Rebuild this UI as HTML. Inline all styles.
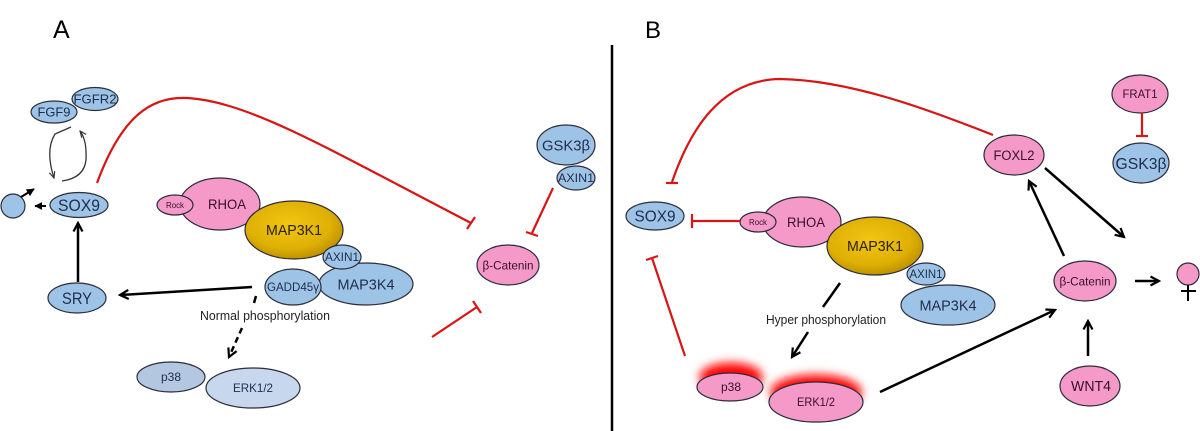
<!DOCTYPE html>
<html><head><meta charset="utf-8"><style>
html,body{margin:0;padding:0;background:#fff;}
svg{display:block;}
text{font-family:"Liberation Sans",sans-serif;}
</style></head><body>
<svg width="1200" height="431" viewBox="0 0 1200 431" xmlns="http://www.w3.org/2000/svg">
<defs>
<marker id="ah" viewBox="0 0 12 12" refX="10" refY="6" markerWidth="12" markerHeight="12" markerUnits="userSpaceOnUse" orient="auto">
<path d="M1.5,1.5 L10,6 L1.5,10.5" fill="none" stroke="#000" stroke-width="2.2"/>
</marker>
<marker id="ahs" viewBox="0 0 10 10" refX="9" refY="5" markerWidth="8" markerHeight="8" markerUnits="userSpaceOnUse" orient="auto">
<path d="M1,1.5 L9,5 L1,8.5" fill="none" stroke="#333" stroke-width="1.4"/>
</marker>
<marker id="ahf" viewBox="0 0 10 10" refX="9" refY="5" markerWidth="8" markerHeight="8" markerUnits="userSpaceOnUse" orient="auto">
<path d="M0,0 L10,5 L0,10 Z" fill="#000"/>
</marker>
<radialGradient id="gold" cx="45%" cy="40%" r="60%">
<stop offset="0" stop-color="#F2C612"/>
<stop offset="0.7" stop-color="#DFB005"/>
<stop offset="1" stop-color="#BE9200"/>
</radialGradient>
<filter id="blur" x="-50%" y="-80%" width="200%" height="260%">
<feGaussianBlur stdDeviation="5"/>
</filter>
</defs>

<g stroke="#2c2c3a" stroke-width="1.2">
<!-- ===== Panel A ===== -->
<ellipse cx="54" cy="112" rx="23" ry="11" fill="#9DC3E6"/>
<ellipse cx="95" cy="99" rx="23" ry="11.5" fill="#9DC3E6"/>
<ellipse cx="79" cy="205" rx="29" ry="12.5" fill="#9DC3E6"/>
<circle cx="13" cy="206" r="12" fill="#9DC3E6"/>
<ellipse cx="77" cy="298" rx="29" ry="15" fill="#9DC3E6"/>

<ellipse cx="220" cy="204" rx="40" ry="26" fill="#F59AC8"/>
<ellipse cx="175" cy="205" rx="18" ry="10" fill="#F59AC8"/>
<ellipse cx="294" cy="230" rx="49" ry="29" fill="url(#gold)"/>
<ellipse cx="366" cy="284" rx="47" ry="21" fill="#9DC3E6"/>
<ellipse cx="293" cy="287" rx="28" ry="18" fill="#9DC3E6"/>
<ellipse cx="342" cy="257" rx="19" ry="12" fill="#9DC3E6"/>

<ellipse cx="171" cy="377" rx="34" ry="15" fill="#B4C7E0"/>
<ellipse cx="253" cy="388" rx="47" ry="20" fill="#C7D8EE"/>

<ellipse cx="508" cy="265" rx="31" ry="20" fill="#F59AC8"/>
<ellipse cx="566" cy="145" rx="29" ry="20" fill="#9DC3E6"/>
<ellipse cx="576" cy="178" rx="19" ry="12" fill="#9DC3E6"/>
</g>

<!-- glows panel B -->
<g filter="url(#blur)">
<ellipse cx="731" cy="377" rx="31" ry="14" fill="#FF1010"/>
<ellipse cx="816" cy="392" rx="45" ry="17" fill="#FF1010"/>
</g>
<g filter="url(#blur)" opacity="0.7">
<ellipse cx="731" cy="379" rx="28" ry="11" fill="#FF0000"/>
<ellipse cx="816" cy="394" rx="42" ry="14" fill="#FF0000"/>
</g>

<g stroke="#2c2c3a" stroke-width="1.2">
<!-- ===== Panel B ===== -->
<ellipse cx="655" cy="216" rx="29" ry="14" fill="#9DC3E6"/>
<ellipse cx="802" cy="222" rx="39" ry="25" fill="#F59AC8"/>
<ellipse cx="758" cy="222" rx="18" ry="10" fill="#F59AC8"/>
<ellipse cx="875" cy="246" rx="48" ry="29" fill="url(#gold)"/>
<ellipse cx="948" cy="305" rx="47" ry="20" fill="#9DC3E6"/>
<ellipse cx="926" cy="274" rx="19" ry="11" fill="#9DC3E6"/>

<ellipse cx="730" cy="387" rx="33" ry="14" fill="#F59AC8"/>
<ellipse cx="816" cy="402" rx="47" ry="20" fill="#F59AC8"/>

<ellipse cx="1014" cy="155" rx="30" ry="20" fill="#F59AC8"/>
<ellipse cx="1140" cy="94" rx="28" ry="19" fill="#F59AC8"/>
<ellipse cx="1141" cy="163" rx="28" ry="20" fill="#9DC3E6"/>
<ellipse cx="1085" cy="281" rx="31" ry="20" fill="#F59AC8"/>
<ellipse cx="1090" cy="386" rx="30" ry="20" fill="#F59AC8"/>
<circle cx="1188" cy="274" r="11" fill="#F59AC8"/>
</g>
<g stroke="#000" stroke-width="2">
<line x1="1188" y1="285" x2="1188" y2="301"/>
<line x1="1181" y1="291" x2="1196" y2="291"/>
</g>

<!-- divider -->
<line x1="612" y1="45" x2="612" y2="431" stroke="#000" stroke-width="2.5"/>

<!-- Black connectors A -->
<g fill="none" stroke="#000" stroke-width="2.5">
<line x1="252" y1="287" x2="120" y2="295" marker-end="url(#ah)"/>
<line x1="78" y1="282" x2="78" y2="223" marker-end="url(#ah)"/>
<line x1="256" y1="296" x2="254" y2="303"/>
<line x1="242" y1="328" x2="229" y2="357" stroke-dasharray="6,4" marker-end="url(#ah)"/>
<line x1="46" y1="206" x2="35" y2="206" stroke-width="2" marker-end="url(#ahf)"/>
<line x1="21" y1="197" x2="34" y2="189" stroke-width="2" marker-end="url(#ahf)"/>
</g>
<g fill="none" stroke="#333" stroke-width="1.3">
<path d="M71,127 L55,134 Q45,150 54,178" marker-end="url(#ahs)"/>
<path d="M62,181 Q84,178 86,160 Q87,140 80,131" marker-end="url(#ahs)"/>
</g>

<!-- Black connectors B -->
<g fill="none" stroke="#000" stroke-width="2.5">
<line x1="840" y1="283" x2="823" y2="307"/>
<line x1="808" y1="332" x2="792" y2="357" marker-end="url(#ah)"/>
<line x1="880" y1="392" x2="1055" y2="310" marker-end="url(#ah)"/>
<line x1="1064" y1="256" x2="1029" y2="181" marker-end="url(#ah)"/>
<line x1="1045" y1="168" x2="1124" y2="237" marker-end="url(#ah)"/>
<line x1="1135" y1="281" x2="1159" y2="281" marker-end="url(#ah)"/>
<line x1="1088" y1="356" x2="1088" y2="321" marker-end="url(#ah)"/>
</g>

<!-- Red inhibitory -->
<g fill="none" stroke="#D81414" stroke-width="2.2">
<path d="M97,183 C122,115 152,96 188,98 C250,102 330,150 471,223"/>
<line x1="467" y1="229" x2="475" y2="217"/>
<line x1="432" y1="337" x2="477" y2="307"/>
<line x1="473" y1="301" x2="481" y2="313"/>
<line x1="553" y1="188" x2="532" y2="233"/>
<line x1="526" y1="232" x2="538" y2="236"/>

<path d="M672,182 C690,130 720,80 780,79 C850,80 930,110 993,135"/>
<line x1="666" y1="183" x2="678" y2="183"/>
<line x1="740" y1="221" x2="692" y2="221"/>
<line x1="692" y1="214" x2="692" y2="228"/>
<line x1="685" y1="356" x2="652" y2="258"/>
<line x1="646" y1="260" x2="658" y2="256"/>
<line x1="1142" y1="113" x2="1142" y2="136"/>
<line x1="1136" y1="136" x2="1148" y2="136"/>
</g>

<!-- Labels -->
<text x="53" y="38" font-size="25" fill="#000">A</text>
<text x="645" y="38" font-size="24" fill="#000">B</text>

<g fill="#1F2D4D" text-anchor="middle">
<text x="54" y="116.5" font-size="13" textLength="33" lengthAdjust="spacingAndGlyphs">FGF9</text>
<text x="95" y="103.5" font-size="13" textLength="43" lengthAdjust="spacingAndGlyphs">FGFR2</text>
<text x="79" y="211" font-size="17" textLength="42" lengthAdjust="spacingAndGlyphs">SOX9</text>
<text x="77" y="304" font-size="17" textLength="30" lengthAdjust="spacingAndGlyphs">SRY</text>
<text x="366" y="289.5" font-size="15" textLength="57" lengthAdjust="spacingAndGlyphs">MAP3K4</text>
<text x="293" y="291" font-size="11.5" textLength="52" lengthAdjust="spacingAndGlyphs">GADD45γ</text>
<text x="342" y="261" font-size="11.5" textLength="34" lengthAdjust="spacingAndGlyphs">AXIN1</text>
<text x="171" y="381" font-size="12" textLength="20" lengthAdjust="spacingAndGlyphs">p38</text>
<text x="253" y="392" font-size="12" textLength="40" lengthAdjust="spacingAndGlyphs">ERK1/2</text>
<text x="566" y="150.5" font-size="15" textLength="48" lengthAdjust="spacingAndGlyphs">GSK3β</text>
<text x="576" y="182" font-size="12" textLength="36" lengthAdjust="spacingAndGlyphs">AXIN1</text>

<text x="655" y="221.5" font-size="16" textLength="41" lengthAdjust="spacingAndGlyphs">SOX9</text>
<text x="948" y="310.5" font-size="15" textLength="57" lengthAdjust="spacingAndGlyphs">MAP3K4</text>
<text x="926" y="278" font-size="11.5" textLength="33" lengthAdjust="spacingAndGlyphs">AXIN1</text>
<text x="1141" y="169" font-size="16" textLength="51" lengthAdjust="spacingAndGlyphs">GSK3β</text>
</g>

<g fill="#3A0E2C" text-anchor="middle">
<text x="175" y="208" font-size="8.5" textLength="18" lengthAdjust="spacingAndGlyphs">Rock</text>
<text x="227" y="209" font-size="14" textLength="38" lengthAdjust="spacingAndGlyphs">RHOA</text>
<text x="508" y="269.5" font-size="12" textLength="51" lengthAdjust="spacingAndGlyphs">β-Catenin</text>

<text x="758" y="225" font-size="8.5" textLength="18" lengthAdjust="spacingAndGlyphs">Rock</text>
<text x="806" y="227" font-size="14" textLength="38" lengthAdjust="spacingAndGlyphs">RHOA</text>
<text x="731" y="391" font-size="12" textLength="20" lengthAdjust="spacingAndGlyphs">p38</text>
<text x="816" y="406" font-size="12" textLength="38" lengthAdjust="spacingAndGlyphs">ERK1/2</text>
<text x="1014" y="160" font-size="13.5" textLength="41" lengthAdjust="spacingAndGlyphs">FOXL2</text>
<text x="1140" y="98" font-size="11.5" textLength="35" lengthAdjust="spacingAndGlyphs">FRAT1</text>
<text x="1085" y="285.5" font-size="12" textLength="51" lengthAdjust="spacingAndGlyphs">β-Catenin</text>
<text x="1091" y="391" font-size="14.5" textLength="40" lengthAdjust="spacingAndGlyphs">WNT4</text>
</g>

<g fill="#2a2200" text-anchor="middle">
<text x="294" y="235" font-size="14.5" textLength="56" lengthAdjust="spacingAndGlyphs">MAP3K1</text>
<text x="875" y="251" font-size="14.5" textLength="56" lengthAdjust="spacingAndGlyphs">MAP3K1</text>
</g>

<g fill="#222" text-anchor="middle">
<text x="265" y="320" font-size="12.5" textLength="130" lengthAdjust="spacingAndGlyphs">Normal phosphorylation</text>
<text x="826" y="324" font-size="12.5" textLength="120" lengthAdjust="spacingAndGlyphs">Hyper phosphorylation</text>
</g>
</svg>
</body></html>
